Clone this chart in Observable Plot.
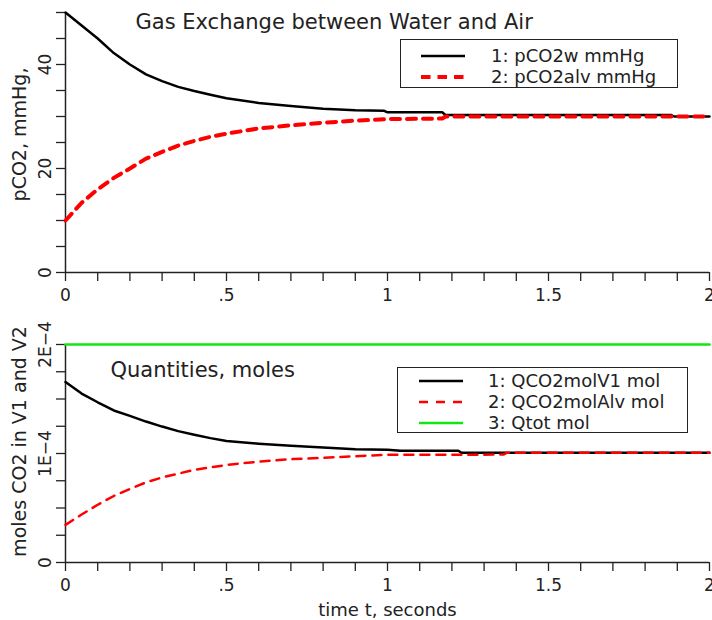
<!DOCTYPE html>
<html>
<head>
<meta charset="utf-8">
<script src="https://cdn.jsdelivr.net/npm/d3@7"></script>
<script src="https://cdn.jsdelivr.net/npm/@observablehq/plot@0.6"></script>
<style>
  body { margin: 0; background: #fff; font-family: "DejaVu Sans", sans-serif; color: #222; }
  #wrap { position: relative; width: 712px; height: 620px; overflow: hidden; background: #fff; }
  #wrap svg.plot { display: block; position: absolute; left: 0; }
  .legend { position: absolute; border: 1.5px solid #222; background: #fff; box-sizing: border-box; }
  .legend .row { position: absolute; left: 0; right: 0; height: 22px; }
  .legend .row svg { position: absolute; top: 0; }
  .legend .row span { position: absolute; top: 0; line-height: 22px; font-size: 18px; white-space: nowrap; color: #222; }
</style>
</head>
<body>
<div id="wrap"></div>
<script>
// ---------- data ----------
const xTicks = [0, 0.5, 1, 1.5, 2];
const xTickLabels = ["0", ".5", "1", "1.5", "2"];
const yTicksTop = [0, 20, 40];
const yTickLabelsTop = ["0", "20", "40"];
const yTicksBottom = [0, 1e-4, 2e-4];
const yTickLabelsBottom = ["0", "1E\u22124", "2E\u22124"];

// top panel: partial pressures (mmHg)
const pco2wTime = [0, 0.05, 0.1, 0.15, 0.2, 0.25, 0.3, 0.35, 0.4, 0.45, 0.5, 0.6, 0.7, 0.8, 0.9, 0.99, 1.0, 1.17, 1.18, 1.88, 1.89, 2.0];
const pco2w     = [50, 47.5, 45.0, 42.2, 40.0, 38.1, 36.8, 35.7, 34.9, 34.2, 33.5, 32.6, 32.0, 31.5, 31.2, 31.1, 30.8, 30.8, 30.3, 30.3, 30.0, 30.0];
const pco2alvTime = [0, 0.05, 0.1, 0.15, 0.2, 0.25, 0.3, 0.35, 0.4, 0.45, 0.5, 0.6, 0.7, 0.8, 0.9, 1.0, 1.17, 1.18, 2.0];
const pco2alv     = [10, 13.4, 16.0, 18.2, 20.0, 21.9, 23.2, 24.4, 25.3, 26.1, 26.7, 27.7, 28.3, 28.8, 29.2, 29.5, 29.6, 30.0, 30.0];

// bottom panel: quantities (mol)
const qV1Time = [0, 0.05, 0.1, 0.15, 0.2, 0.25, 0.3, 0.35, 0.4, 0.45, 0.5, 0.6, 0.7, 0.8, 0.9, 1.0, 1.04, 1.22, 1.23, 2.0];
const qV1     = [1.656e-4, 1.55e-4, 1.47e-4, 1.395e-4, 1.345e-4, 1.293e-4, 1.247e-4, 1.205e-4, 1.172e-4, 1.141e-4, 1.115e-4, 1.09e-4, 1.07e-4, 1.055e-4, 1.04e-4, 1.035e-4, 1.025e-4, 1.025e-4, 1.006e-4, 1.006e-4];
const qAlvTime = [0, 0.05, 0.1, 0.15, 0.2, 0.25, 0.3, 0.35, 0.4, 0.45, 0.5, 0.6, 0.7, 0.8, 0.9, 1.0, 1.36, 1.37, 2.0];
const qAlv     = [0.345e-4, 0.44e-4, 0.53e-4, 0.61e-4, 0.675e-4, 0.735e-4, 0.78e-4, 0.815e-4, 0.85e-4, 0.872e-4, 0.895e-4, 0.925e-4, 0.948e-4, 0.96e-4, 0.975e-4, 0.988e-4, 0.99e-4, 1.006e-4, 1.006e-4];
const qTotTime = [0, 2];
const qTot     = [2e-4, 2e-4];

const legendTopLabels = ["1: pCO2w mmHg", "2: pCO2alv mmHg"];
const legendBottomLabels = ["1: QCO2molV1 mol", "2: QCO2molAlv mol", "3: Qtot mol"];
const titleTop = "Gas Exchange between Water and Air";
const titleBottom = "Quantities, moles";
const yLabelTop = "pCO2, mmHg,";
const yLabelBottom = "moles CO2 in V1 and V2";
const xLabel = "time t, seconds";

// ---------- helpers ----------
const rows = (ts, vs) => ts.map((t, i) => ({t, v: vs[i]}));
const fmt = (ticks, labels) => d => {
  const i = ticks.findIndex(t => Math.abs(t - d) < 1e-12);
  return i >= 0 ? labels[i] : "";
};
const xMinor = d3.range(0, 21).map(i => i / 10);
const yMinorTop = d3.range(0, 11).map(i => i * 5);
const yMinorBottom = d3.range(0, 9).map(i => i * 0.25e-4);

const BLACK = "#000", RED = "#ff0000", GREEN = "#11e611", AX = "#222";
const FONT = "DejaVu Sans, sans-serif";

const wrap = document.getElementById("wrap");

// ---------- top panel ----------
const topPlot = Plot.plot({
  width: 712, height: 305,
  marginLeft: 65, marginRight: 3, marginTop: 12, marginBottom: 33,
  x: {domain: [0, 2]},
  y: {domain: [0, 50]},
  style: {fontFamily: FONT, fontSize: "17px", color: AX, background: "transparent", overflow: "visible"},
  marks: [
    Plot.axisX({ticks: xMinor, tickSize: 9, tickPadding: 7, tickFormat: fmt(xTicks, xTickLabels), label: null, strokeWidth: 1.3}),
    Plot.axisY({ticks: yMinorTop, tickSize: 9, tickPadding: 6, tickRotate: -90, tickFormat: fmt(yTicksTop, yTickLabelsTop), label: null, strokeWidth: 1.3}),
    Plot.ruleX([0], {stroke: AX, strokeWidth: 1.5}),
    Plot.ruleY([0], {stroke: AX, strokeWidth: 1.5}),
    Plot.line(rows(pco2wTime, pco2w), {x: "t", y: "v", stroke: BLACK, strokeWidth: 2.5}),
    Plot.line(rows(pco2alvTime, pco2alv), {x: "t", y: "v", stroke: RED, strokeWidth: 4, strokeDasharray: "9,7"}),
    Plot.text([titleTop], {text: d => d, frameAnchor: "top-left", textAnchor: "start", lineAnchor: "bottom", dx: 70, dy: 16, fontSize: 21, fill: AX}),
    Plot.text([yLabelTop], {text: d => d, frameAnchor: "left", textAnchor: "middle", rotate: -90, lineAnchor: "bottom", dx: -40, dy: -8, fontSize: 19, fill: AX})
  ]
});
topPlot.classList.add("plot");
topPlot.style.top = "0px";
wrap.appendChild(topPlot);

// ---------- bottom panel ----------
const botPlot = Plot.plot({
  width: 712, height: 315,
  marginLeft: 65, marginRight: 3, marginTop: 39, marginBottom: 58,
  x: {domain: [0, 2]},
  y: {domain: [0, 2e-4]},
  style: {fontFamily: FONT, fontSize: "17px", color: AX, background: "transparent", overflow: "visible"},
  marks: [
    Plot.axisX({ticks: xMinor, tickSize: 9, tickPadding: 7, tickFormat: fmt(xTicks, xTickLabels), label: null, strokeWidth: 1.3}),
    Plot.axisY({ticks: yMinorBottom, tickSize: 9, tickPadding: 6, tickRotate: -90, tickFormat: fmt(yTicksBottom, yTickLabelsBottom), label: null, strokeWidth: 1.3}),
    Plot.ruleX([0], {stroke: AX, strokeWidth: 1.5}),
    Plot.ruleY([0], {stroke: AX, strokeWidth: 1.5}),
    Plot.line(rows(qTotTime, qTot), {x: "t", y: "v", stroke: GREEN, strokeWidth: 2.6}),
    Plot.line(rows(qV1Time, qV1), {x: "t", y: "v", stroke: BLACK, strokeWidth: 2.5}),
    Plot.line(rows(qAlvTime, qAlv), {x: "t", y: "v", stroke: RED, strokeWidth: 2.5, strokeDasharray: "9,7"}),
    Plot.text([titleBottom], {text: d => d, frameAnchor: "top-left", textAnchor: "start", lineAnchor: "bottom", dx: 45, dy: 32, fontSize: 21, fill: AX}),
    Plot.text([yLabelBottom], {text: d => d, frameAnchor: "left", textAnchor: "middle", rotate: -90, lineAnchor: "bottom", dx: -40, dy: -12, fontSize: 19, fill: AX}),
    Plot.text([xLabel], {text: d => d, frameAnchor: "bottom", lineAnchor: "bottom", dy: 53, fontSize: 18, fill: AX})
  ]
});
botPlot.classList.add("plot");
botPlot.style.top = "305px";
wrap.appendChild(botPlot);

// ---------- legends ----------
function legend(box, items) {
  const div = document.createElement("div");
  div.className = "legend";
  Object.assign(div.style, {left: box.left + "px", top: box.top + "px", width: box.width + "px", height: box.height + "px"});
  items.forEach((it, i) => {
    const row = document.createElement("div");
    row.className = "row";
    row.style.top = (box.rowTop + i * box.rowGap - 11) + "px";
    const ns = "http://www.w3.org/2000/svg";
    const s = document.createElementNS(ns, "svg");
    s.setAttribute("width", box.lineW);
    s.setAttribute("height", 22);
    s.style.left = box.lineX + "px";
    const l = document.createElementNS(ns, "line");
    l.setAttribute("x1", 0); l.setAttribute("x2", box.lineW);
    l.setAttribute("y1", 11); l.setAttribute("y2", 11);
    l.setAttribute("stroke", it.color);
    l.setAttribute("stroke-width", it.width);
    if (it.dash) l.setAttribute("stroke-dasharray", it.dash);
    s.appendChild(l);
    row.appendChild(s);
    const sp = document.createElement("span");
    sp.textContent = it.label;
    sp.style.left = box.textX + "px";
    row.appendChild(sp);
    div.appendChild(row);
  });
  wrap.appendChild(div);
}

legend({left: 400, top: 39, width: 278, height: 49, rowTop: 16, rowGap: 20.5, lineX: 20, lineW: 44, textX: 90}, [
  {label: legendTopLabels[0], color: BLACK, width: 2.5},
  {label: legendTopLabels[1], color: RED, width: 4, dash: "9.5,7"}
]);
legend({left: 397, top: 367, width: 291, height: 66, rowTop: 12.5, rowGap: 21.2, lineX: 21, lineW: 44, textX: 90}, [
  {label: legendBottomLabels[0], color: BLACK, width: 2.5},
  {label: legendBottomLabels[1], color: RED, width: 2.5, dash: "9,8"},
  {label: legendBottomLabels[2], color: GREEN, width: 2.6}
]);
</script>
</body>
</html>
